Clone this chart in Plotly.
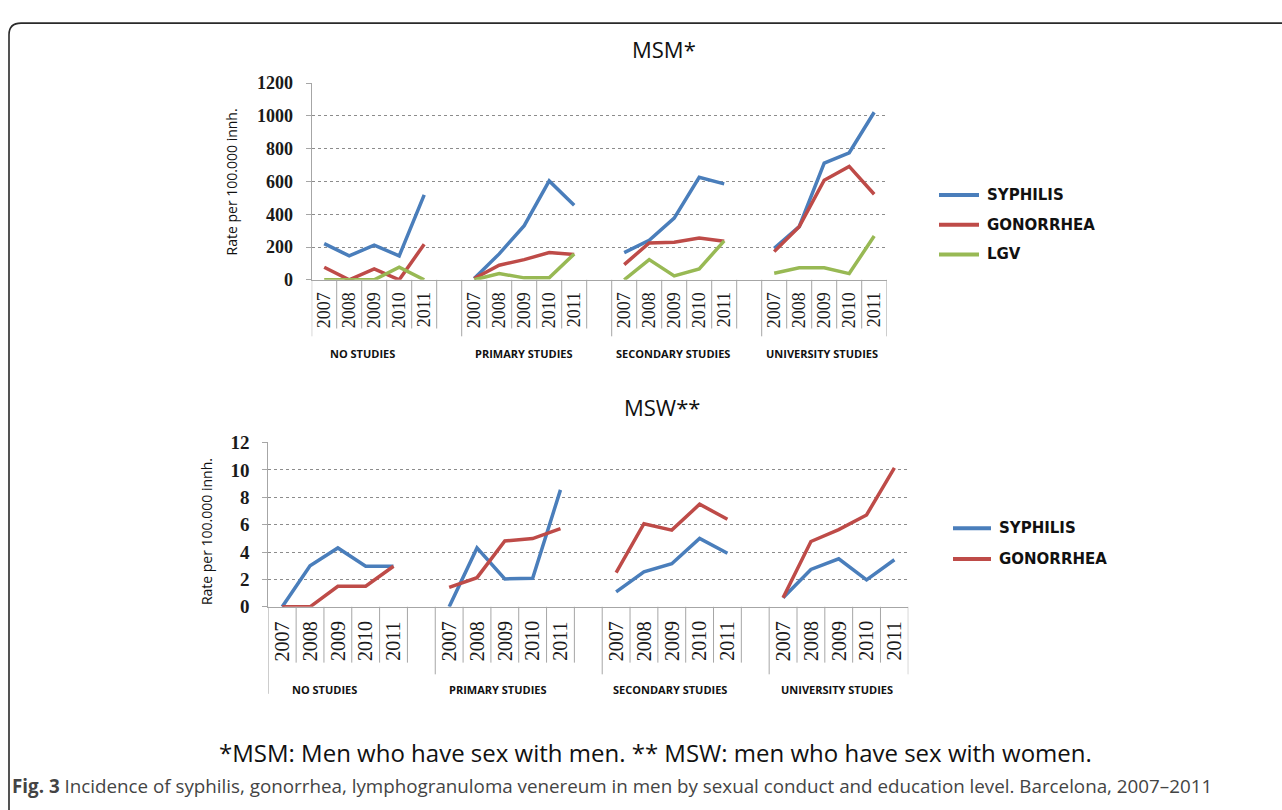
import plotly.graph_objects as go

W, H = 1282, 810

# ---------------- data ----------------
groups = ["NO STUDIES", "PRIMARY STUDIES", "SECONDARY STUDIES", "UNIVERSITY STUDIES"]
years = ["2007", "2008", "2009", "2010", "2011"]

msm_syphilis = [221, 146, 212, 146, 518,
                8, 158, 330, 603, 455,
                166, 241, 376, 625, 585,
                192, 324, 712, 775, 1022]
msm_gonorrhea = [77, 0, 67, 0, 217,
                 8, 89, 123, 166, 154,
                 93, 225, 229, 255, 235,
                 172, 324, 607, 692, 522]
msm_lgv = [0, 0, 0, 77, 0,
           0, 38, 12, 12, 158,
           0, 123, 24, 67, 237,
           40, 73, 73, 38, 267]

msw_syphilis = [0, 3.0, 4.3, 2.96, 2.96,
                0, 4.3, 2.04, 2.09, 8.54,
                1.09, 2.56, 3.15, 5.0, 3.91,
                0.66, 2.73, 3.51, 1.97, 3.44]
msw_gonorrhea = [0, 0, 1.5, 1.5, 2.96,
                 1.42, 2.13, 4.81, 4.98, 5.71,
                 2.49, 6.07, 5.6, 7.49, 6.4,
                 0.66, 4.77, 5.64, 6.71, 10.15]

msm_ticks = [0, 200, 400, 600, 800, 1000, 1200]
msw_ticks = [0, 2, 4, 6, 8, 10, 12]

BLUE, RED, GREEN = "#4A7EBB", "#BE4B48", "#98B954"
GRID = "#8c8c8c"
AXC = "#a6a6a6"

def pxx(x):
    return x / W

def pyy(y):
    return 1 - y / H

SLOTS_PER_GROUP = 6
N_SLOTS = 23

def series_xy(values):
    xs, ys = [], []
    for g in range(len(groups)):
        for j in range(len(years)):
            xs.append(g * SLOTS_PER_GROUP + j + 0.5)
            ys.append(values[g * len(years) + j])
        xs.append(None)
        ys.append(None)
    return xs, ys

fig = go.Figure()

for vals, col, name in [(msm_syphilis, BLUE, "SYPHILIS"),
                        (msm_gonorrhea, RED, "GONORRHEA"),
                        (msm_lgv, GREEN, "LGV")]:
    xs, ys = series_xy(vals)
    fig.add_trace(go.Scatter(x=xs, y=ys, mode="lines", name=name,
                             line=dict(color=col, width=3.5),
                             xaxis="x", yaxis="y", cliponaxis=False,
                             showlegend=False, connectgaps=False))

for vals, col, name in [(msw_syphilis, BLUE, "SYPHILIS"),
                        (msw_gonorrhea, RED, "GONORRHEA")]:
    xs, ys = series_xy(vals)
    fig.add_trace(go.Scatter(x=xs, y=ys, mode="lines", name=name,
                             line=dict(color=col, width=3.5),
                             xaxis="x2", yaxis="y2", cliponaxis=False,
                             showlegend=False, connectgaps=False))

# panel geometry (pixels)
top = dict(x0=311.7, x1=886.7, y0=75, y1=277)
bot = dict(x0=268.3, x1=908.3, y0=444, y1=612.7)

def yax(p, ticks, size, anchor):
    return dict(domain=[pyy(p["y1"]), pyy(p["y0"])],
                range=[ticks[0], ticks[-1]], tickvals=ticks,
                showgrid=True, gridcolor=GRID, griddash="dot", gridwidth=1,
                showline=True, linecolor=AXC, linewidth=1,
                ticks="outside", ticklen=5, tickcolor=AXC,
                ticklabelstandoff=9, anchor=anchor,
                tickfont=dict(family="Liberation Serif", size=size, color="#1a1a1a",
                              weight="bold"),
                zeroline=False, fixedrange=True)

def xax(p, anchor):
    return dict(domain=[pxx(p["x0"]), pxx(p["x1"])], range=[0, N_SLOTS],
                showgrid=False, zeroline=False, showticklabels=False,
                showline=True, linecolor=AXC, linewidth=1, ticks="",
                anchor=anchor, fixedrange=True)

shapes = []
annotations = []

def category_box(xref, p, short_end, long_end, first_end, year_y, group_y, group_x, year_size):
    for k in range(N_SLOTS + 1):
        if k == 0:
            end = first_end
        elif k % SLOTS_PER_GROUP == 0 or k == N_SLOTS:
            end = long_end
        else:
            end = short_end
        shapes.append(dict(type="line", xref=xref, yref="paper",
                           x0=k, x1=k, y0=pyy(p["y1"]), y1=pyy(end),
                           line=dict(color=AXC, width=1)))
    for g in range(len(groups)):
        for j, yr in enumerate(years):
            annotations.append(dict(xref=xref, yref="paper",
                                    x=g * SLOTS_PER_GROUP + j + 0.5, y=pyy(year_y),
                                    text=yr, showarrow=False, textangle=-90,
                                    xanchor="center", yanchor="middle",
                                    font=dict(family="Liberation Serif", size=year_size, color="#1a1a1a")))
        annotations.append(dict(xref="paper", yref="paper",
                                x=pxx(group_x[g]), y=pyy(group_y),
                                text="<b>" + groups[g] + "</b>", showarrow=False,
                                xanchor="center", yanchor="middle",
                                font=dict(family="Open Sans", size=11, color="#111")))

category_box("x", top, 327, 335, 335, 308, 352.5, [362, 524, 673, 822], 18)
category_box("x2", bot, 670, 682, 702, 648, 697.5, [324, 498, 670, 837], 20)

# y-axis titles
for xc, yc in [(231, 177), (206, 536)]:
    annotations.append(dict(xref="paper", yref="paper", x=pxx(xc), y=pyy(yc),
                            text="Rate per 100.000 innh.", showarrow=False, textangle=-90,
                            xanchor="center", yanchor="middle",
                            font=dict(family="Open Sans", size=14, color="#111")))

# panel titles
annotations.append(dict(xref="paper", yref="paper", x=pxx(664), y=pyy(40),
                        text="MSM*", showarrow=False, xanchor="center", yanchor="middle",
                        font=dict(family="Open Sans", size=22, color="#111")))
annotations.append(dict(xref="paper", yref="paper", x=pxx(662), y=pyy(408),
                        text="MSW**", showarrow=False, xanchor="center", yanchor="middle",
                        font=dict(family="Open Sans", size=22, color="#111")))

# legends
def legend(items, x_line0, x_line1, x_text, ys):
    for (name, col), y in zip(items, ys):
        shapes.append(dict(type="line", xref="paper", yref="paper",
                           x0=pxx(x_line0), x1=pxx(x_line1), y0=pyy(y), y1=pyy(y),
                           line=dict(color=col, width=4)))
        annotations.append(dict(xref="paper", yref="paper", x=pxx(x_text), y=pyy(y),
                                text="<b>" + name + "</b>", showarrow=False,
                                xanchor="left", yanchor="middle",
                                font=dict(family="DejaVu Sans", size=15, color="#111")))

legend([("SYPHILIS", BLUE), ("GONORRHEA", RED), ("LGV", GREEN)], 939, 979, 985, [190, 220.5, 251])
legend([("SYPHILIS", BLUE), ("GONORRHEA", RED)], 953, 991, 997, [532, 563.5])

# captions
annotations.append(dict(xref="paper", yref="paper", x=pxx(655), y=pyy(762),
                        text="*MSM: Men who have sex with men. ** MSW: men who have sex with women.",
                        showarrow=False, xanchor="center", yanchor="middle",
                        font=dict(family="Open Sans", size=24, color="#111")))
annotations.append(dict(xref="paper", yref="paper", x=pxx(10), y=pyy(797),
                        text="<b>Fig. 3</b> Incidence of syphilis, gonorrhea, lymphogranuloma venereum in men by sexual conduct and education level. Barcelona, 2007–2011",
                        showarrow=False, xanchor="left", yanchor="middle",
                        font=dict(family="Open Sans", size=18.8, color="#444")))

# frame with rounded top-left corner
r = 12
x0f, y0f = 9, 13.5
path = (f"M {pxx(x0f)},{pyy(H + 20)} L {pxx(x0f)},{pyy(y0f + r)} "
        f"Q {pxx(x0f)},{pyy(y0f)} {pxx(x0f + r)},{pyy(y0f)} L {pxx(W + 20)},{pyy(y0f)}")
shapes.append(dict(type="path", xref="paper", yref="paper", path=path,
                   line=dict(color="#2a2a2a", width=1.6)))

fig.update_layout(
    width=W, height=H,
    margin=dict(l=0, r=0, t=0, b=0),
    paper_bgcolor="white", plot_bgcolor="white",
    showlegend=False,
    xaxis=xax(top, "y"),
    yaxis=yax(top, msm_ticks, 18, "x"),
    xaxis2=xax(bot, "y2"),
    yaxis2=yax(bot, msw_ticks, 19, "x2"),
    shapes=shapes,
    annotations=annotations,
)

post = (
    "document.body.style.margin='0';"
    "document.body.style.overflow='hidden';"
)
fig.write_html("out.html", config={"displayModeBar": False}, post_script=post)
